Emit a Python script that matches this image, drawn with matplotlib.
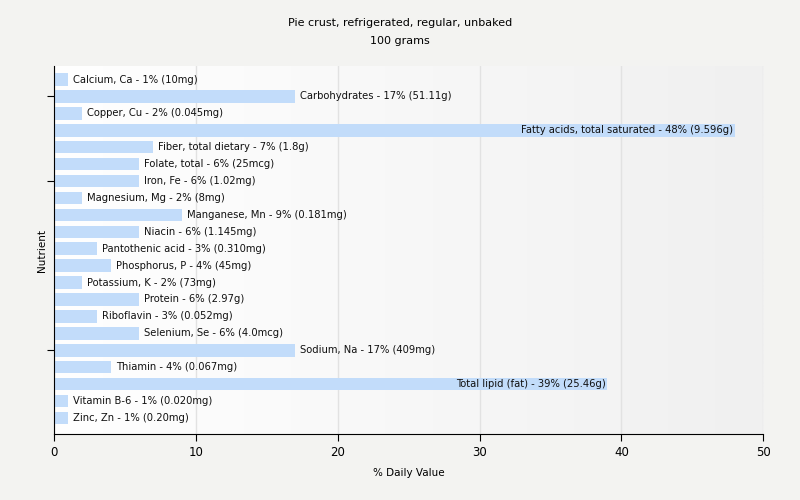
import matplotlib.pyplot as plt
import numpy as np

# nutrient data
nutrients = ["Calcium, Ca", "Carbohydrates", "Copper, Cu", "Fatty acids, total saturated",
             "Fiber, total dietary", "Folate, total", "Iron, Fe", "Magnesium, Mg",
             "Manganese, Mn", "Niacin", "Pantothenic acid", "Phosphorus, P",
             "Potassium, K", "Protein", "Riboflavin", "Selenium, Se", "Sodium, Na",
             "Thiamin", "Total lipid (fat)", "Vitamin B-6", "Zinc, Zn"]
daily_pct = [1, 17, 2, 48, 7, 6, 6, 2, 9, 6, 3, 4, 2, 6, 3, 6, 17, 4, 39, 1, 1]
amounts = ["10mg", "51.11g", "0.045mg", "9.596g", "1.8g", "25mcg", "1.02mg", "8mg",
           "0.181mg", "1.145mg", "0.310mg", "45mg", "73mg", "2.97g", "0.052mg",
           "4.0mcg", "409mg", "0.067mg", "25.46g", "0.020mg", "0.20mg"]

bg = "#f3f3f1"
fig = plt.figure(figsize=(8, 5), dpi=100, facecolor=bg)
ax = fig.add_axes([0.0675, 0.132, 0.8865, 0.736])

# gradient background, white to light grey
grad = np.linspace(0, 1, 256).reshape(1, -1)
cmap = plt.matplotlib.colors.LinearSegmentedColormap.from_list("g", ["#ffffff", "#f0f0f0"])
ax.imshow(grad, cmap=cmap, extent=[0, 1, 0, 1], transform=ax.transAxes, aspect="auto", zorder=0)

y = np.arange(len(nutrients))
ax.barh(y, daily_pct, height=0.74, color="#c2dcfa", zorder=2)

for yi, name, v, amt in zip(y, nutrients, daily_pct, amounts):
    label = f"{name} - {v}% ({amt})"
    if v > 30:
        ax.text(v - 0.1, yi, label, ha="right", va="center", fontsize=7.2, color="#111111", zorder=3)
    else:
        ax.text(v + 0.35, yi, label, ha="left", va="center", fontsize=7.2, color="#111111", zorder=3)

ax.set_xlim(0, 50)
ax.set_ylim(len(nutrients) - 0.05, -0.8)
ax.set_xticks([0, 10, 20, 30, 40, 50])
ax.set_yticks([1, 6, 16])
ax.set_yticklabels([])
ax.tick_params(axis="x", labelsize=8.5, length=5)
ax.tick_params(axis="y", length=5)
ax.grid(axis="x", color="#e2e2e2", linewidth=1, zorder=1)
ax.set_axisbelow(True)
for s in ["top", "right"]:
    ax.spines[s].set_visible(False)

ax.set_xlabel("% Daily Value", fontsize=7.5, va="top")
ax.xaxis.set_label_coords(0.5, -0.092)
ax.set_ylabel("Nutrient", fontsize=7.5)
ax.yaxis.set_label_coords(-0.01, 0.5)
fig.text(0.5, 0.964, "Pie crust, refrigerated, regular, unbaked\n100 grams", fontsize=8,
         ha="center", va="top", linespacing=1.95)

fig.savefig("out.png", dpi=100, facecolor=bg)
